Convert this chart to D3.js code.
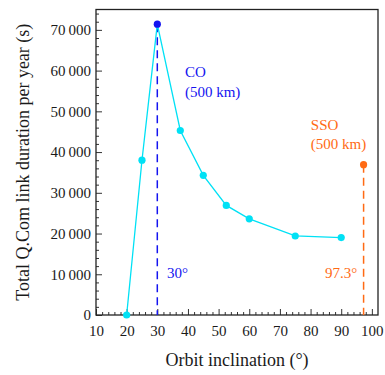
<!DOCTYPE html>
<html><head><meta charset="utf-8">
<script src="https://cdn.jsdelivr.net/npm/d3@7"></script>
<style>body{margin:0;background:#fff}svg{display:block}text{font-family:'Liberation Serif','Times New Roman','DejaVu Serif',serif}</style>
</head><body>
<svg id="c" width="385" height="375"></svg>
<script>
const inclinations = [20, 25, 30, 37.5, 45, 52.5, 60, 75, 90];
const durations = [0, 38000, 71400, 45300, 34300, 26900, 23600, 19400, 19000];
const coPoint = {x: 30, y: 71400};
const ssoPoint = {x: 97.3, y: 36900};
const xTicks = [10, 20, 30, 40, 50, 60, 70, 80, 90, 100];
const yTicks = [0, 10000, 20000, 30000, 40000, 50000, 60000, 70000];

const svg = d3.select("#c");
const L = 96, R = 378, T = 9.5, B = 315;
const x = d3.scaleLinear().domain([10, 102]).range([L, R]);
const y = d3.scaleLinear().domain([0, 75000]).range([B, T]);
const font = "'Liberation Serif', 'Times New Roman', 'DejaVu Serif', serif";
const cyan = "#00e1f5", blue = "#1414f0", orange = "#ff6a14";
const fmt = v => v === 0 ? "0" : d3.format(",")(v).replace(/,/g, "\u2009");

// ticks
const gx = svg.append("g").attr("transform", `translate(0,${B})`);
gx.call(d3.axisBottom(x).tickValues(d3.range(10, 101, 2)).tickSize(-3).tickFormat(""));
gx.call(g => g.selectAll(".tick").filter(d => d % 10 === 0).select("line").attr("y2", -6));
gx.select(".domain").remove();
gx.selectAll("line").attr("stroke", "#333");
const gxl = svg.append("g").attr("transform", `translate(0,${B})`);
gxl.call(d3.axisBottom(x).tickValues(xTicks).tickSize(0).tickPadding(10).tickFormat(d3.format("d")));
gxl.attr("font-family", null).attr("font-size", null);
gxl.select(".domain").remove();
gxl.selectAll("text").style("font-family", font).attr("font-size", 15).attr("fill", "#1a1a1a");

const gy = svg.append("g").attr("transform", `translate(${L},0)`);
gy.call(d3.axisLeft(y).tickValues(d3.range(0, 75001, 2000)).tickSize(-3).tickFormat(""));
gy.call(g => g.selectAll(".tick").filter(d => d % 10000 === 0).select("line").attr("x2", 6));
gy.select(".domain").remove();
gy.selectAll("line").attr("stroke", "#333");
const gyl = svg.append("g").attr("transform", `translate(${L},0)`);
gyl.call(d3.axisLeft(y).tickValues(yTicks).tickSize(0).tickPadding(5).tickFormat(fmt));
gyl.attr("font-family", null).attr("font-size", null);
gyl.select(".domain").remove();
gyl.selectAll("text").style("font-family", font).attr("font-size", 15).attr("fill", "#1a1a1a");

// frame
svg.append("rect").attr("x", L).attr("y", T).attr("width", R - L).attr("height", B - T)
  .attr("fill", "none").attr("stroke", "#222").attr("stroke-width", 1.3);

// dashed lines
svg.append("line").attr("x1", x(coPoint.x)).attr("x2", x(coPoint.x)).attr("y1", y(coPoint.y)).attr("y2", y(0))
  .attr("stroke", blue).attr("stroke-width", 1.5).attr("stroke-dasharray", "8,5");
svg.append("line").attr("x1", x(ssoPoint.x)).attr("x2", x(ssoPoint.x)).attr("y1", y(ssoPoint.y)).attr("y2", y(0))
  .attr("stroke", orange).attr("stroke-width", 1.5).attr("stroke-dasharray", "8,5");

// series line
const pts = inclinations.map((v, i) => [v, durations[i]]);
svg.append("path").datum(pts)
  .attr("d", d3.line().x(d => x(d[0])).y(d => y(d[1])))
  .attr("fill", "none").attr("stroke", cyan).attr("stroke-width", 1.3);
svg.selectAll("circle.s").data(pts.filter(d => d[0] !== coPoint.x)).enter().append("circle")
  .attr("cx", d => x(d[0])).attr("cy", d => y(d[1])).attr("r", 3.6).attr("fill", cyan);
svg.append("circle").attr("cx", x(coPoint.x)).attr("cy", y(coPoint.y)).attr("r", 3.6).attr("fill", blue);
svg.append("circle").attr("cx", x(ssoPoint.x)).attr("cy", y(ssoPoint.y)).attr("r", 3.6).attr("fill", orange);

// annotations
const txt = (t, px, py, col, anchor) => svg.append("text").attr("x", px).attr("y", py).text(t)
  .style("font-family", font).attr("font-size", 15).attr("fill", col).attr("text-anchor", anchor || "start");
txt("CO", x(39.0), y(58400), blue);
txt("(500 km)", x(39.0), y(53500), blue);
txt("30°", x(33.2), y(9100), blue);
txt("SSO", x(80.1), y(45400), orange);
txt("(500 km)", x(80.1), y(40800), orange);
txt("97.3°", x(95.2), y(9100), orange, "end");

// axis titles
svg.append("text").attr("x", (L + R) / 2).attr("y", 366).attr("text-anchor", "middle")
  .style("font-family", font).attr("font-size", 18).attr("fill", "#1a1a1a").text("Orbit inclination (°)");
svg.append("text").attr("transform", `translate(29,${(T + B) / 2}) rotate(-90)`).attr("text-anchor", "middle")
  .style("font-family", font).attr("font-size", 18).attr("fill", "#1a1a1a").text("Total Q.Com link duration per year (s)");
</script>
</body></html>
